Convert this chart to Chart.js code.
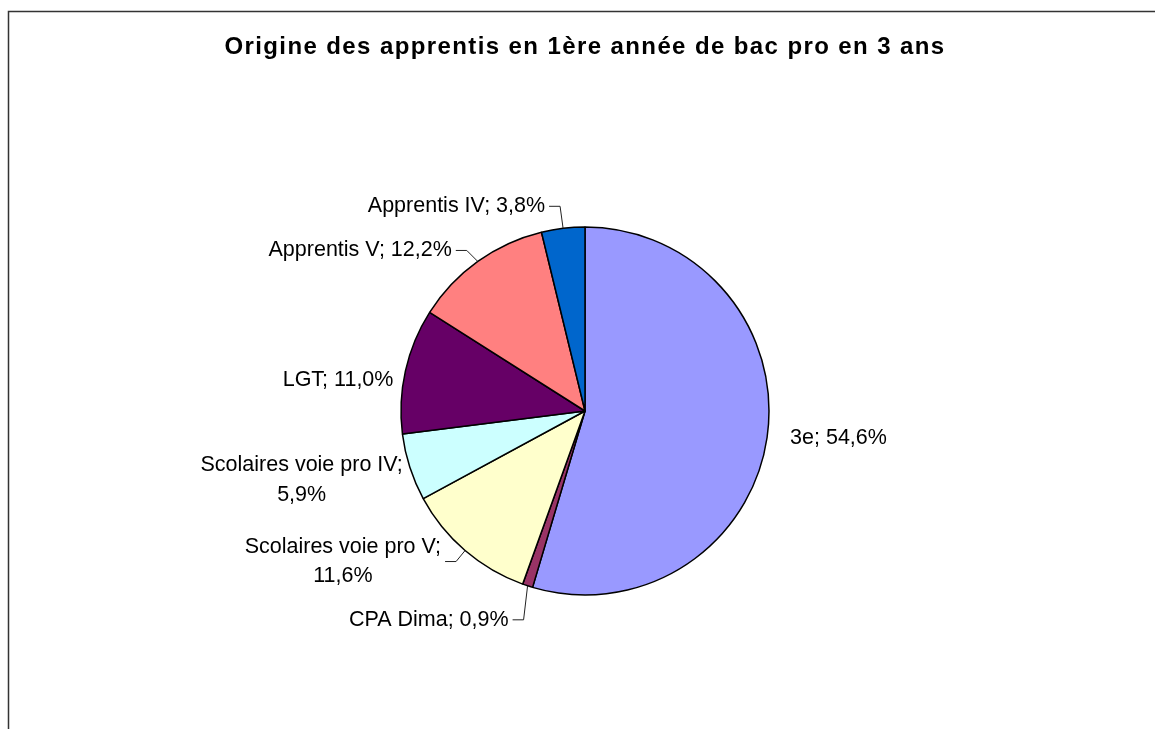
<!DOCTYPE html>
<html>
<head>
<meta charset="utf-8">
<script src="https://cdn.jsdelivr.net/npm/chart.js@4.4.1/dist/chart.umd.min.js"></script>
<style>
  html, body { margin: 0; padding: 0; background: #fff; }
  #wrap { width: 1155px; height: 729px; }
</style>
</head>
<body>
<div id="wrap"><canvas id="chart" width="1155" height="729"></canvas></div>
<script>
// Origine des apprentis en 1ère année de bac pro en 3 ans
const categories = ['3e', 'CPA Dima', 'Scolaires voie pro V', 'Scolaires voie pro IV', 'LGT', 'Apprentis V', 'Apprentis IV'];
const shares = [54.6, 0.9, 11.6, 5.9, 11.0, 12.2, 3.8];
const sliceColors = ['#9999FF', '#993366', '#FFFFCC', '#CCFFFF', '#660066', '#FF8080', '#0066CC'];

// where each label sits, relative to the middle of its slice's rim
const labelPlacement = [
  {dx: 23, dy: 1, align: 'left', wrap: false, leader: false},
  {dx: -19, dy: 34, align: 'right', wrap: false, leader: true},
  {dx: -24, dy: 11, align: 'right', wrap: true, leader: true},
  {dx: -7, dy: 13, align: 'right', wrap: true, leader: false},
  {dx: -12, dy: 9, align: 'right', wrap: false, leader: false},
  {dx: -26, dy: -11, align: 'right', wrap: false, leader: true},
  {dx: -18, dy: -22, align: 'right', wrap: false, leader: true},
];

const labelFont = '21.5px "Liberation Sans", Arial, sans-serif';
const lineGap = 29.5;

function fmt(v) {
  return v.toFixed(1).replace('.', ',') + '%';
}

const framePlugin = {
  id: 'frame',
  beforeDraw(chart) {
    const ctx = chart.ctx;
    ctx.save();
    ctx.strokeStyle = '#333';
    ctx.lineWidth = 1.5;
    ctx.beginPath();
    ctx.moveTo(8.5, chart.height + 5);
    ctx.lineTo(8.5, 11.5);
    ctx.lineTo(chart.width + 5, 11.5);
    ctx.stroke();
    ctx.restore();
    // Excel-like slightly spaced bold title
    ctx.letterSpacing = '1.4px';
  },
  beforeDatasetsDraw(chart) {
    chart.ctx.letterSpacing = '0px';
  }
};

const labelPlugin = {
  id: 'sliceLabels',
  afterDatasetsDraw(chart) {
    const ctx = chart.ctx;
    const meta = chart.getDatasetMeta(0);
    ctx.save();
    ctx.letterSpacing = '0px';
    ctx.font = labelFont;
    ctx.fillStyle = '#000';
    ctx.textBaseline = 'middle';
    meta.data.forEach((arc, i) => {
      const p = arc.getProps(['x', 'y', 'startAngle', 'endAngle', 'outerRadius'], true);
      const mid = (p.startAngle + p.endAngle) / 2;
      const rx = p.x + Math.cos(mid) * p.outerRadius;
      const ry = p.y + Math.sin(mid) * p.outerRadius;
      const place = labelPlacement[i];
      const ax = rx + place.dx;
      const ay = ry + place.dy;
      const lines = place.wrap
        ? [categories[i] + ';', fmt(shares[i])]
        : [categories[i] + '; ' + fmt(shares[i])];
      const widths = lines.map(l => ctx.measureText(l).width);
      const blockW = Math.max(...widths);
      const cx = place.align === 'right' ? ax - blockW / 2 : ax + blockW / 2;
      ctx.textAlign = 'center';
      lines.forEach((l, k) => {
        const ly = ay + (k - (lines.length - 1) / 2) * lineGap;
        ctx.fillText(l, cx, ly);
      });
      if (place.leader) {
        const sgn = place.align === 'right' ? 1 : -1;
        ctx.beginPath();
        ctx.strokeStyle = '#222';
        ctx.lineWidth = 1;
        ctx.moveTo(rx, ry);
        ctx.lineTo(ax + sgn * 15, ay);
        ctx.lineTo(ax + sgn * 4, ay);
        ctx.stroke();
      }
    });
    ctx.restore();
  }
};

new Chart(document.getElementById('chart'), {
  type: 'pie',
  data: {
    labels: categories,
    datasets: [{
      data: shares,
      backgroundColor: sliceColors,
      borderColor: '#000',
      borderWidth: 1.5,
    }]
  },
  options: {
    responsive: false,
    animation: false,
    devicePixelRatio: 1,
    radius: 184,
    layout: {padding: {left: 15, right: 0, top: 0, bottom: 0}},
    plugins: {
      legend: {display: false},
      tooltip: {enabled: false},
      title: {
        display: true,
        text: 'Origine des apprentis en 1ère année de bac pro en 3 ans',
        color: '#000',
        font: {family: '"Liberation Sans", Arial, sans-serif', size: 24, weight: 'bold', lineHeight: 1.2},
        padding: {top: 33.2, bottom: 31}
      }
    }
  },
  plugins: [framePlugin, labelPlugin]
});
</script>
</body>
</html>
